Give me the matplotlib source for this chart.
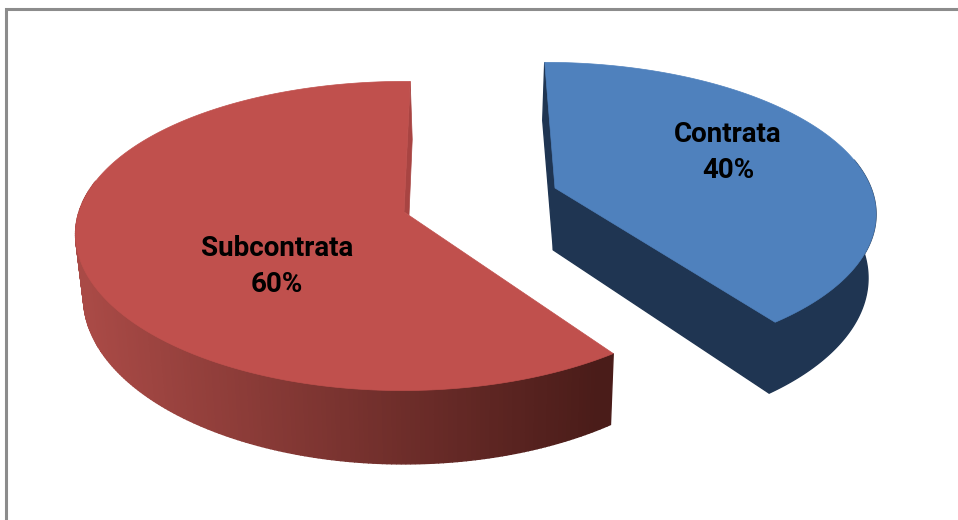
import numpy as np
from matplotlib import pyplot as plt
from matplotlib.colors import LinearSegmentedColormap

labels = ['Contrata', 'Subcontrata']
shares = [40, 60]

top_colors = ['#4F81BD', '#C0504D']
cut_colors = ['#1F3552', '#A84442']
start_deg = [0, 145]          # where each slice begins, clockwise from the back
# apex x/y, x radius, y radius, x shear, of each exploded slice on the page
geom = [(555, 188, 316, -116, 66), (404, 212, 325, -118, 58)]
label_pos = [(728, 134, 170), (277, 249, 285)]

persp_x = 0.14
persp_y = 0.155
depth = 62
shrink = 0.02
vanish_x = 475
wall_cmap = LinearSegmentedColormap.from_list('wall', ['#A94A46', '#4A1C19'])


def rim(th, g):
    x0, y0, q, p, r = g
    u, v = np.sin(th), np.cos(th)
    w = 1 + persp_y * v
    return (x0 + q * u + r * v) / (1 + persp_x * v), (y0 + p * v) / w, w


def lower(x, y, w):
    return x + (vanish_x - x) * shrink, y + depth / w


fig = plt.figure(figsize=(9.58, 5.2), dpi=100)
ax = fig.add_axes([0, 0, 1, 1])
ax.set_xlim(0, 958)
ax.set_ylim(520, 0)
ax.axis('off')

# frame of the chart area, only top and left are in the crop
ax.plot([6, 6, 958], [520, 9, 9], color='#8C8C8C', lw=2.2, solid_joinstyle='miter')

for i in range(len(shares)):
    g = geom[i]
    sweep = 360 * shares[i] / sum(shares)
    th = np.radians(np.linspace(start_deg[i], start_deg[i] + sweep, 300))
    x, y, w = rim(th, g)
    xb, yb = lower(x, y, w)
    ax0, ay0 = g[0], g[1]
    bx0, by0 = lower(ax0, ay0, 1.0)
    front = np.cos(th) < 0.2      # the far part of the wall is hidden anyway

    if i == 0:
        # flat navy walls and cut faces
        ax.fill(np.r_[x[front], xb[front][::-1]], np.r_[y[front], yb[front][::-1]],
                color=cut_colors[i], lw=1)
        ax.fill([ax0, bx0, xb[-1], x[-1]], [ay0, by0, yb[-1], y[-1]], color=cut_colors[i], lw=1)
        ax.fill([x[0], x[0] - 2, bx0, ax0], [y[0], y[0] + 58, by0, ay0], color=cut_colors[i], lw=1)
    else:
        # wall shaded left to right, one quad per step
        for k in range(len(th) - 1):
            if not front[k]:
                continue
            c = wall_cmap(np.clip((x[k] - 85) / (600 - 85), 0, 1))
            ax.fill([x[k], x[k + 1], xb[k + 1], xb[k]], [y[k], y[k + 1], yb[k + 1], yb[k]],
                    color=c, lw=1)
        ax.fill([x[-1], x[-1] + 2, ax0 + 5, ax0], [y[-1], y[-1] + 58, ay0 + 3, ay0],
                color=cut_colors[i], lw=0.5)

    ax.fill(np.r_[ax0, x], np.r_[ay0, y], color=top_colors[i], lw=0.5)

    tx, ty1, ty2 = label_pos[i]
    ax.text(tx, ty1, labels[i], ha='center', va='center', fontsize=20,
            fontweight='bold', family='Roboto', color='black')
    ax.text(tx, ty2, '%d%%' % shares[i], ha='center', va='center', fontsize=20,
            fontweight='bold', family='Roboto', color='black')

plt.savefig('out.png', dpi=100)
